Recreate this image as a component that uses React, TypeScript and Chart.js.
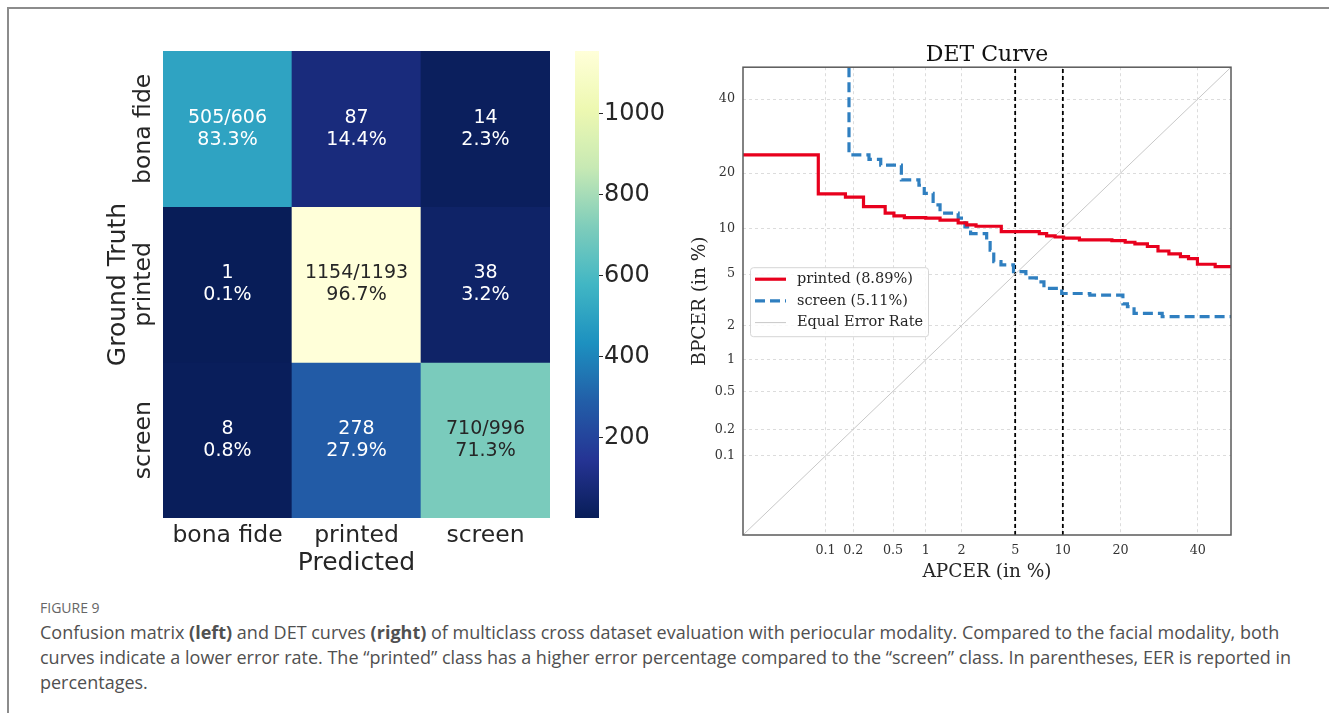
import React, { useEffect, useRef } from "react";
import { Chart, registerables, Scale } from "chart.js";

Chart.register(...registerables);

// ---------------- Confusion matrix ----------------
const classLabels = ["bona fide", "printed", "screen"];
const rowBonaFide = [505, 87, 14];
const rowPrinted = [1, 1154, 38];
const rowScreen = [8, 278, 710];
const colorbarTicks = [200, 400, 600, 800, 1000];

// ---------------- DET curves (values in %) ----------------
const detTicks = [0.1, 0.2, 0.5, 1, 2, 5, 10, 20, 40];
const detRange = [0.01, 50];
const printedApcer = [0.01, 0.083, 0.165, 0.255, 0.42, 0.51, 0.64, 1.0, 1.33, 1.88, 2.2, 2.6, 4.0, 7.2, 8.0, 9.0, 10.1, 12.4, 18.2, 21, 23.2, 26.2, 28.9, 31.8, 35, 37.3, 39.9, 45.2, 50];
const printedBpcer = [24.3, 15.7, 15.1, 13.4, 12.3, 11.85, 11.6, 11.5, 11.2, 10.8, 10.5, 10.3, 9.55, 9.3, 9.0, 8.85, 8.7, 8.5, 8.4, 8.2, 8.0, 7.7, 7.2, 6.9, 6.6, 6.4, 5.86, 5.64, 5.5];
const screenApcer = [0.18, 0.18, 0.29, 0.38, 0.6, 0.87, 0.97, 1.16, 1.33, 1.88, 2.13, 2.36, 3.13, 3.32, 3.53, 3.98, 4.87, 5.9, 6.9, 7.7, 9.85, 14.1, 20.5, 21.5, 23, 30, 50];
const screenBpcer = [50, 24.3, 23.2, 21.8, 18.5, 17.4, 15.8, 13.7, 12.3, 11.5, 10.2, 9.3, 8.47, 7.3, 6.1, 5.8, 5.2, 4.7, 4.4, 3.94, 3.6, 3.5, 3.0, 2.85, 2.52, 2.37, 2.37];
const eerPrinted = 8.89;
const eerScreen = 5.11;
const thresholdLines = [5, 10];

// ---------------- colour map (YlGnBu, reversed) ----------------
const YLGNBU = ["#ffffd9", "#edf8b1", "#c7e9b4", "#7fcdbb", "#41b6c4", "#1d91c0", "#225ea8", "#253494", "#081d58"];
const hexToRgb = (h: string) => [parseInt(h.slice(1, 3), 16), parseInt(h.slice(3, 5), 16), parseInt(h.slice(5, 7), 16)];
function cmapRgb(t: number) {
  const s = (1 - Math.min(1, Math.max(0, t))) * 8;
  const i = Math.min(7, Math.floor(s));
  const f = s - i;
  const a = hexToRgb(YLGNBU[i]);
  const b = hexToRgb(YLGNBU[i + 1]);
  return a.map((v, k) => Math.round(v + (b[k] - v) * f));
}
const cmap = (t: number) => {
  const [r, g, b] = cmapRgb(t);
  return `rgb(${r},${g},${b})`;
};
function luminance(rgb: number[]) {
  const c = rgb.map((v) => {
    const s = v / 255;
    return s <= 0.03928 ? s / 12.92 : Math.pow((s + 0.055) / 1.055, 2.4);
  });
  return 0.2126 * c[0] + 0.7152 * c[1] + 0.0722 * c[2];
}

// ---------------- normal deviate helpers for the DET axes ----------------
function normInv(p: number) {
  const a = [-3.969683028665376e1, 2.209460984245205e2, -2.759285104469687e2, 1.38357751867269e2, -3.066479806614716e1, 2.506628277459239];
  const b = [-5.447609879822406e1, 1.615858368580409e2, -1.556989798598866e2, 6.680131188771972e1, -1.328068155288572e1];
  const c = [-7.784894002430293e-3, -3.223964580411365e-1, -2.400758277161838, -2.549732539343734, 4.374664141464968, 2.938163982698783];
  const d = [7.784695709041462e-3, 3.224671290700398e-1, 2.445134137142996, 3.754408661907416];
  const plow = 0.02425;
  if (p < plow) {
    const q = Math.sqrt(-2 * Math.log(p));
    return (((((c[0] * q + c[1]) * q + c[2]) * q + c[3]) * q + c[4]) * q + c[5]) / ((((d[0] * q + d[1]) * q + d[2]) * q + d[3]) * q + 1);
  }
  if (p <= 1 - plow) {
    const q = p - 0.5;
    const r = q * q;
    return ((((((a[0] * r + a[1]) * r + a[2]) * r + a[3]) * r + a[4]) * r + a[5]) * q) / (((((b[0] * r + b[1]) * r + b[2]) * r + b[3]) * r + b[4]) * r + 1);
  }
  const q = Math.sqrt(-2 * Math.log(1 - p));
  return -(((((c[0] * q + c[1]) * q + c[2]) * q + c[3]) * q + c[4]) * q + c[5]) / ((((d[0] * q + d[1]) * q + d[2]) * q + d[3]) * q + 1);
}
function erfc(x: number) {
  const z = Math.abs(x);
  const t = 1 / (1 + 0.5 * z);
  const r = t * Math.exp(-z * z - 1.26551223 + t * (1.00002368 + t * (0.37409196 + t * (0.09678418 + t * (-0.18628806 + t * (0.27886807 + t * (-1.13520398 + t * (1.48851587 + t * (-0.82215223 + t * 0.17087277)))))))));
  return x >= 0 ? r : 2 - r;
}
const normCdf = (z: number) => 0.5 * erfc(-z / Math.SQRT2);

// Probit-scaled axis: values are percentages, positions follow the normal deviate.
class ProbitScale extends Scale {
  static id = "probit";
  static defaults = {};
  _zStart = 0;
  _zRange = 1;
  determineDataLimits() {
    const { min, max } = this.getMinMax(true);
    this.min = this.options.min ?? min;
    this.max = this.options.max ?? max;
  }
  buildTicks() {
    const vals: number[] = this.options.tickValues || [];
    return vals.filter((v) => v >= this.min && v <= this.max).map((v) => ({ value: v }));
  }
  configure() {
    super.configure();
    this._zStart = normInv(this.min / 100);
    this._zRange = normInv(this.max / 100) - this._zStart;
  }
  getPixelForValue(value: number) {
    const v = Math.min(Math.max(value, 1e-6), 100 - 1e-6);
    return this.getPixelForDecimal((normInv(v / 100) - this._zStart) / this._zRange);
  }
  getValueForPixel(pixel: number) {
    return 100 * normCdf(this._zStart + this.getDecimalForPixel(pixel) * this._zRange);
  }
  getLabelForValue(value: number) {
    return String(value);
  }
}
Chart.register(ProbitScale);

const SANS = "DejaVu Sans";
const SERIF = "DejaVu Serif";
const INK = "#262626";

export default function App() {
  const heatRef = useRef<HTMLCanvasElement>(null);
  const barRef = useRef<HTMLCanvasElement>(null);
  const detRef = useRef<HTMLCanvasElement>(null);

  useEffect(() => {
    const rows = [rowBonaFide, rowPrinted, rowScreen];
    const all = rows.flat();
    const vmin = Math.min(...all);
    const vmax = Math.max(...all);
    const norm = (v: number) => (v - vmin) / (vmax - vmin);

    const cellText = {
      id: "cellText",
      afterDatasetsDraw(chart: any) {
        const { ctx, chartArea } = chart;
        const xs = chart.scales.x;
        const ys = chart.scales.y;
        ctx.save();
        ctx.textAlign = "center";
        ctx.textBaseline = "middle";
        ctx.font = `19px "${SANS}"`;
        rows.forEach((row, r) => {
          const total = row.reduce((s, v) => s + v, 0);
          row.forEach((v, c) => {
            const x = xs.getPixelForValue(c);
            const y = ys.getPixelForValue(r + 0.5);
            ctx.fillStyle = luminance(cmapRgb(norm(v))) > 0.408 ? INK : "#ffffff";
            ctx.fillText(r === c ? `${v}/${total}` : `${v}`, x, y - 11);
            ctx.fillText(`${((100 * v) / total).toFixed(1)}%`, x, y + 11);
          });
        });
        ctx.fillStyle = INK;
        ctx.font = `23.5px "${SANS}"`;
        classLabels.forEach((lab, r) => {
          ctx.save();
          ctx.translate(chartArea.left - 19, ys.getPixelForValue(r + 0.5));
          ctx.rotate(-Math.PI / 2);
          ctx.fillText(lab, 0, 0);
          ctx.restore();
        });
        ctx.restore();
      },
    };

    const heat = new Chart(heatRef.current!, {
      type: "bar",
      data: {
        labels: classLabels,
        datasets: rows.map((row, r) => ({
          label: classLabels[r],
          data: row.map(() => [r, r + 1]),
          backgroundColor: row.map((v) => cmap(norm(v))),
          borderWidth: 0,
          grouped: false,
          barPercentage: 1,
          categoryPercentage: 1,
        })),
      },
      options: {
        responsive: false,
        animation: false,
        events: [],
        layout: { padding: { left: 0, right: 20, top: 21, bottom: 0 } },
        plugins: { legend: { display: false }, tooltip: { enabled: false } },
        scales: {
          x: {
            type: "category",
            grid: { display: false },
            border: { display: false },
            ticks: { color: INK, font: { family: SANS, size: 23.5 }, padding: -4, maxRotation: 0 },
            title: { display: true, text: "Predicted", color: INK, font: { family: SANS, size: 25 }, padding: { top: 0, bottom: 12 } },
            afterFit: (s: any) => {
              s.height = 72;
            },
          },
          y: {
            type: "linear",
            min: 0,
            max: 3,
            reverse: true,
            grid: { display: false },
            border: { display: false },
            ticks: { display: false },
            title: { display: true, text: "Ground Truth", color: INK, font: { family: SANS, size: 25 }, padding: { top: 13, bottom: 0 } },
            afterFit: (s: any) => {
              s.width = 73;
            },
          },
        },
      },
      plugins: [cellText],
    } as any);

    const bar = new Chart(barRef.current!, {
      type: "bar",
      data: {
        labels: [""],
        datasets: [
          {
            data: [[vmin, vmax]],
            borderWidth: 0,
            barPercentage: 1,
            categoryPercentage: 1,
            backgroundColor: (c: any) => {
              const chart = c.chart;
              const ys = chart.scales.y;
              if (!chart.chartArea || !ys) return cmap(0.5);
              const g = chart.ctx.createLinearGradient(0, ys.getPixelForValue(vmin), 0, ys.getPixelForValue(vmax));
              for (let k = 0; k <= 32; k++) g.addColorStop(k / 32, cmap(k / 32));
              return g;
            },
          },
        ],
      },
      options: {
        responsive: false,
        animation: false,
        events: [],
        layout: { padding: { left: 15, right: 0, top: 20, bottom: 20 } },
        plugins: { legend: { display: false }, tooltip: { enabled: false } },
        scales: {
          x: { display: false },
          y: {
            position: "right",
            min: vmin,
            max: vmax,
            afterBuildTicks: (s: any) => {
              s.ticks = colorbarTicks.map((v) => ({ value: v }));
            },
            grid: { drawOnChartArea: false, drawTicks: true, tickLength: 4, tickColor: INK, tickWidth: 1 },
            border: { display: false },
            ticks: { color: INK, font: { family: SANS, size: 24 }, padding: 1, callback: (v: number) => String(v) },
            afterFit: (s: any) => {
              s.width = 81;
            },
          },
        },
      },
    } as any);

    const pts = (xs: number[], ys: number[]) => xs.map((x, i) => ({ x, y: ys[i] }));

    const frame = {
      id: "frame",
      afterDraw(chart: any) {
        const { ctx, chartArea: a } = chart;
        ctx.save();
        ctx.strokeStyle = "#5a5a5a";
        ctx.lineWidth = 1.5;
        ctx.strokeRect(a.left, a.top, a.right - a.left, a.bottom - a.top);
        ctx.restore();
      },
    };

    const detLegend = {
      id: "detLegend",
      afterDraw(chart: any) {
        const { ctx, chartArea: a } = chart;
        const items = chart.data.datasets.filter((d: any) => d.inLegend);
        const left = a.left + 7;
        const top = a.top + 200;
        const w = 178;
        const h = 69;
        ctx.save();
        ctx.fillStyle = "rgba(255,255,255,0.85)";
        ctx.strokeStyle = "#d6d6d6";
        ctx.lineWidth = 1;
        ctx.beginPath();
        ctx.roundRect(left + 0.5, top + 0.5, w, h, 3);
        ctx.fill();
        ctx.stroke();
        ctx.font = `14.5px "${SERIF}"`;
        ctx.textBaseline = "middle";
        ctx.textAlign = "left";
        items.forEach((d: any, i: number) => {
          const y = top + 12 + i * 21.7;
          ctx.strokeStyle = d.borderColor;
          ctx.lineWidth = d.borderWidth;
          ctx.setLineDash(d.borderDash || []);
          ctx.beginPath();
          ctx.moveTo(left + 5, y);
          ctx.lineTo(left + 36, y);
          ctx.stroke();
          ctx.setLineDash([]);
          ctx.fillStyle = INK;
          ctx.fillText(d.label, left + 47, y);
        });
        ctx.restore();
      },
    };

    const probitAxis = (title: string, fit: (s: any) => void, titlePad: any) => ({
      type: "probit",
      min: detRange[0],
      max: detRange[1],
      tickValues: detTicks,
      grid: { color: "#dcdcdc", lineWidth: 1, drawTicks: false },
      border: { display: false, dash: [3, 3] },
      ticks: { autoSkip: false, maxRotation: 0, color: "#333333", font: { family: SERIF, size: 12.7 }, padding: 8 },
      title: { display: true, text: title, color: INK, font: { family: SERIF, size: 18.5 }, padding: titlePad },
      afterFit: fit,
    });

    const det = new Chart(detRef.current!, {
      type: "line",
      data: {
        datasets: [
          {
            label: `printed (${eerPrinted.toFixed(2)}%)`,
            inLegend: true,
            data: pts(printedApcer, printedBpcer),
            borderColor: "#e8001d",
            borderWidth: 3.2,
            stepped: true,
            pointRadius: 0,
            fill: false,
          },
          {
            label: `screen (${eerScreen.toFixed(2)}%)`,
            inLegend: true,
            data: pts(screenApcer, screenBpcer),
            borderColor: "#2f7fc0",
            borderWidth: 3.2,
            borderDash: [10, 5],
            stepped: true,
            pointRadius: 0,
            fill: false,
          },
          {
            label: "Equal Error Rate",
            inLegend: true,
            data: pts(detRange, detRange),
            borderColor: "#c8c8c8",
            borderWidth: 1,
            pointRadius: 0,
            fill: false,
          },
          ...thresholdLines.map((t) => ({
            label: `threshold ${t}`,
            data: pts([t, t], detRange),
            borderColor: "#000000",
            borderWidth: 1.8,
            borderDash: [4, 3],
            pointRadius: 0,
            fill: false,
          })),
        ],
      },
      options: {
        responsive: false,
        animation: false,
        events: [],
        layout: { padding: { left: 0, right: 19, top: 0, bottom: 0 } },
        plugins: {
          legend: { display: false },
          tooltip: { enabled: false },
          title: {
            display: true,
            fullSize: false,
            text: "DET Curve",
            color: "#111111",
            font: { family: SERIF, size: 22, weight: "normal", lineHeight: 1.1 },
            padding: { top: 13, bottom: 0 },
          },
        },
        scales: {
          x: probitAxis("APCER (in %)", (s: any) => { s.height = 55; }, { top: 0, bottom: 7 }),
          y: probitAxis("BPCER (in %)", (s: any) => { s.width = 63; }, { top: 9, bottom: 0 }),
        },
      },
      plugins: [frame, detLegend],
    } as any);

    return () => {
      heat.destroy();
      bar.destroy();
      det.destroy();
    };
  }, []);

  const captionStyle: React.CSSProperties = {
    position: "absolute",
    left: 40,
    whiteSpace: "nowrap",
    fontFamily: '"Open Sans", sans-serif',
    fontSize: 18,
    color: "#505050",
    lineHeight: "25px",
  };

  return (
    <div style={{ position: "absolute", left: 0, top: 0, width: 1329, height: 713, overflow: "hidden", background: "#ffffff" }}>
      <div style={{ position: "absolute", left: 7, top: 7, right: -10, bottom: -10, borderTop: "2px solid #8c8c8c", borderLeft: "2px solid #8c8c8c" }} />
      <canvas ref={heatRef} width={480} height={560} style={{ position: "absolute", left: 90, top: 30 }} />
      <canvas ref={barRef} width={120} height={507} style={{ position: "absolute", left: 560, top: 31 }} />
      <canvas ref={detRef} width={570} height={560} style={{ position: "absolute", left: 680, top: 30 }} />
      <div style={{ ...captionStyle, top: 598, fontSize: 14, color: "#666666", lineHeight: "20px" }}>FIGURE 9</div>
      <div style={{ ...captionStyle, top: 620 }}>
        Confusion matrix <b>(left)</b> and DET curves <b>(right)</b> of multiclass cross dataset evaluation with periocular modality. Compared to the facial modality, both
      </div>
      <div style={{ ...captionStyle, top: 645 }}>
        curves indicate a lower error rate. The “printed” class has a higher error percentage compared to the “screen” class. In parentheses, EER is reported in
      </div>
      <div style={{ ...captionStyle, top: 670 }}>percentages.</div>
    </div>
  );
}
